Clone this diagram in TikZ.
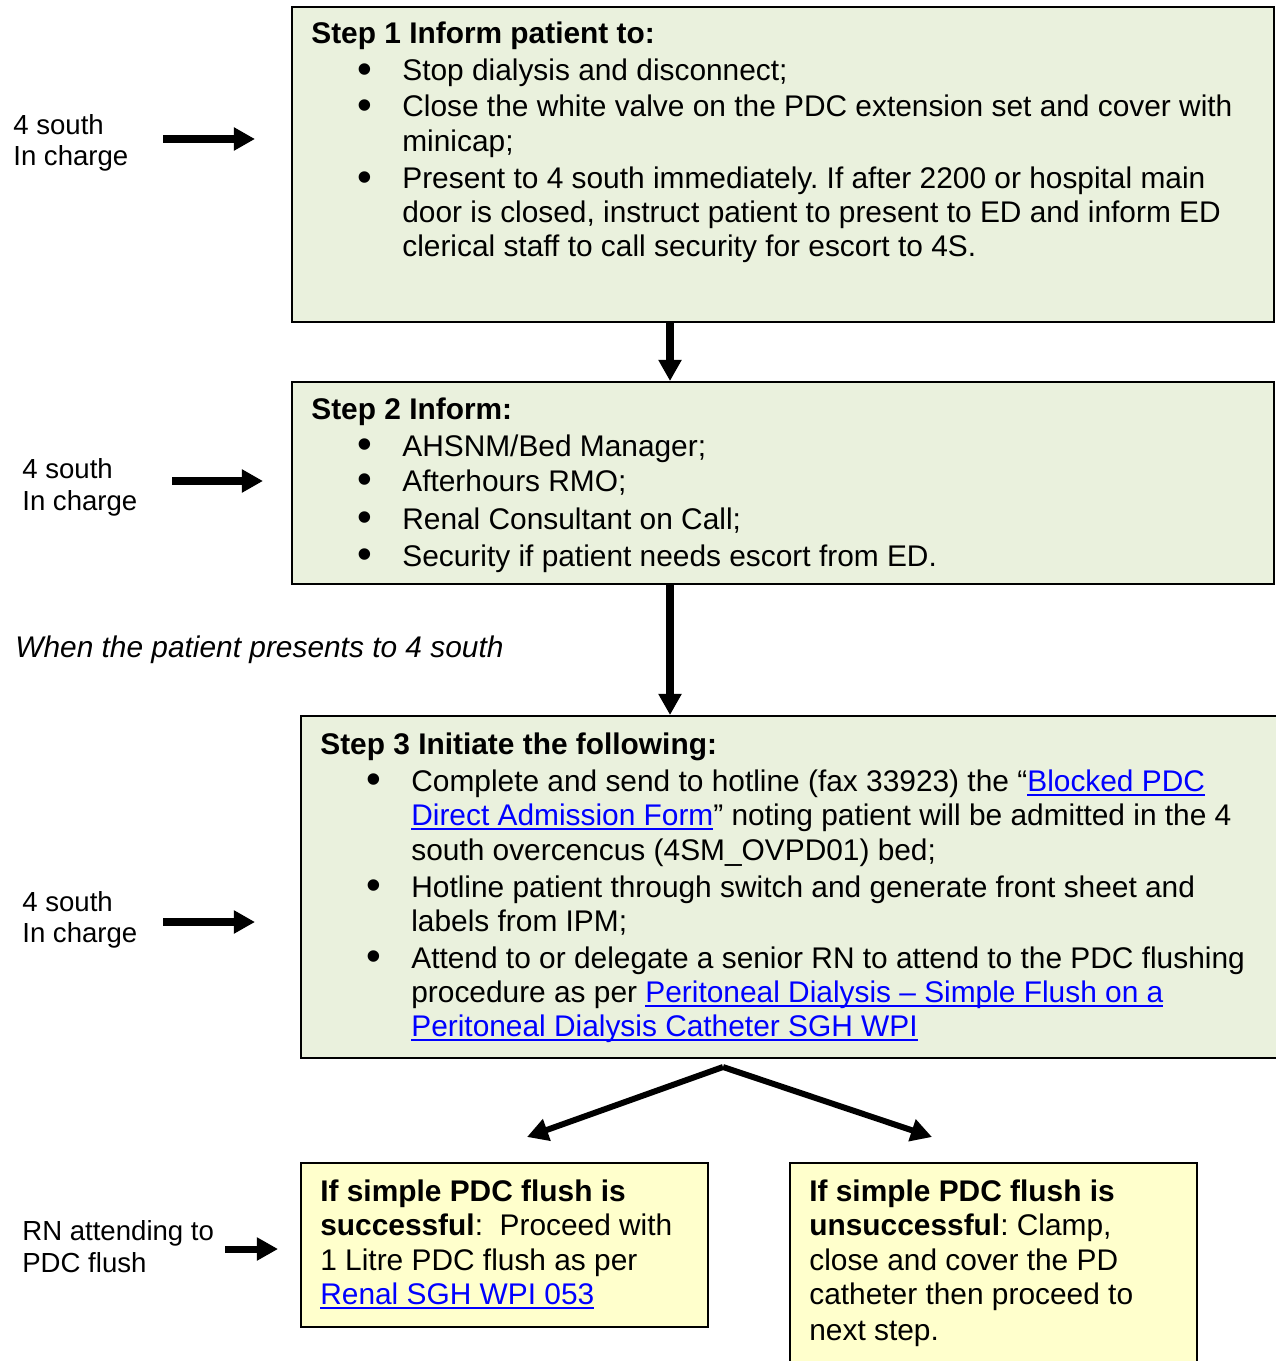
\documentclass[tikz,border=0pt]{standalone}
\usepackage{fontspec}
\setmainfont{Liberation Sans}
\usetikzlibrary{positioning,arrows.meta}
\definecolor{stepgreen}{HTML}{EAF1DD}
\definecolor{flushyellow}{HTML}{FFFFCC}
\definecolor{linkblue}{HTML}{0000FF}
\frenchspacing
\newcommand{\lnk}[1]{\textcolor{linkblue}{\setbox0\hbox{#1}\rlap{\rule[-2.6pt]{\wd0}{0.9pt}}\box0}}
\newcommand{\bul}{\smash{\raisebox{-1.6pt}{\fontsize{24}{20}\selectfont\textbullet}}}
\tikzset{
	stepbox/.style={draw, line width=1.1pt, fill=stepgreen, anchor=north west, inner sep=0pt},
	flushbox/.style={draw, line width=1.1pt, fill=flushyellow, anchor=north west, inner sep=0pt},
	txt/.style={anchor=base west, inner sep=0pt, font=\fontsize{17}{20}\selectfont},
	who/.style={anchor=base west, inner sep=0pt, font=\fontsize{15.7}{18}\selectfont},
	bigarrow/.style={line width=4pt, -{Triangle[length=12pt,width=12.5pt]}},
	splitarrow/.style={line width=3.4pt, -{Triangle[length=12pt,width=12.5pt]}}
}
\begin{document}
\begin{tikzpicture}[x=0.02cm, y=-0.02cm]
			\useasboundingbox (0,0) rectangle (1275,1361);
			% boxes
			\node[stepbox, minimum width=19.64cm, minimum height=6.30cm] (step1) at (291,6) {};
			\node[stepbox, minimum width=19.64cm, minimum height=4.04cm] (step2) at (291,381) {};
			\node[stepbox, minimum width=19.80cm, minimum height=6.84cm] (step3) at (300,715) {};
			\node[flushbox, minimum width=8.14cm, minimum height=3.28cm] (okbox) at (300,1162) {};
			\node[flushbox, minimum width=8.14cm, minimum height=4.40cm] (failbox) at (789,1162) {};
			% step 1
			\node[txt] (s1h) at (311,44) {\textbf{Step 1 Inform patient to:}};
			\node[txt] (s1b1) at (357,81) {\bul};
			\node[txt] (s1l1) at (402,81) {Stop dialysis and disconnect;};
			\node[txt] (s1b2) at (357,117) {\bul};
			\node[txt] (s1l2) at (402,117) {Close the white valve on the PDC extension set and cover with};
			\node[txt] (s1l3) at (402,152) {minicap;};
			\node[txt] (s1b3) at (357,189) {\bul};
			\node[txt] (s1l4) at (402,189) {Present to 4 south immediately. If after 2200 or hospital main};
			\node[txt] (s1l5) at (402,223) {door is closed, instruct patient to present to ED and inform ED};
			\node[txt] (s1l6) at (402,257) {clerical staff to call security for escort to 4S.};
			% step 2
			\node[txt] (s2h) at (311,419) {\textbf{Step 2 Inform:}};
			\node[txt] (s2b1) at (357,456) {\bul};
			\node[txt] (s2l1) at (402,456) {AHSNM/Bed Manager;};
			\node[txt] (s2b2) at (357,491) {\bul};
			\node[txt] (s2l2) at (402,491) {Afterhours RMO;};
			\node[txt] (s2b3) at (357,529) {\bul};
			\node[txt] (s2l3) at (402,529) {Renal Consultant on Call;};
			\node[txt] (s2b4) at (357,566) {\bul};
			\node[txt] (s2l4) at (402,566) {Security if patient needs escort from ED.};
			% step 3
			\node[txt] (s3h) at (320,754) {\textbf{Step 3 Initiate the following:}};
			\node[txt] (s3b1) at (366,791) {\bul};
			\node[txt] (s3l1) at (411,791) {Complete and send to hotline (fax 33923) the “\lnk{Blocked PDC}};
			\node[txt] (s3l2) at (411,825) {\lnk{Direct Admission Form}” noting patient will be admitted in the 4};
			\node[txt] (s3l3) at (411,860) {south overcencus (4SM\_OVPD01) bed;};
			\node[txt] (s3b2) at (366,897) {\bul};
			\node[txt] (s3l4) at (411,897) {Hotline patient through switch and generate front sheet and};
			\node[txt] (s3l5) at (411,931) {labels from IPM;};
			\node[txt] (s3b3) at (366,968) {\bul};
			\node[txt] (s3l6) at (411,968) {Attend to or delegate a senior RN to attend to the PDC flushing};
			\node[txt] (s3l7) at (411,1002) {procedure as per \lnk{Peritoneal Dialysis \textendash{} Simple Flush on a}};
			\node[txt] (s3l8) at (411,1036) {\lnk{Peritoneal Dialysis Catheter SGH WPI}};
			% flush outcomes
			\node[txt] (okl1) at (320,1201) {\textbf{If simple PDC flush is}};
			\node[txt] (okl2) at (320,1235) {\textbf{successful}:\ \ Proceed with};
			\node[txt] (okl3) at (320,1270) {1 Litre PDC flush as per};
			\node[txt] (okl4) at (320,1304) {\lnk{Renal SGH WPI 053}};
			\node[txt] (faill1) at (809,1201) {\textbf{If simple PDC flush is}};
			\node[txt] (faill2) at (809,1235) {\textbf{unsuccessful}: Clamp,};
			\node[txt] (faill3) at (809,1270) {close and cover the PD};
			\node[txt] (faill4) at (809,1304) {catheter then proceed to};
			\node[txt] (faill5) at (809,1340) {next step.};
			% who does it
			\node[who] (who1a) at (13,135) {4 south};
			\node[who] (who1b) at (13,166) {In charge};
			\node[who] (who2a) at (22,478) {4 south};
			\node[who] (who2b) at (22,510) {In charge};
			\node[who] (who3a) at (22,911) {4 south};
			\node[who] (who3b) at (22,942) {In charge};
			\node[who] (who4a) at (22,1240) {RN attending to};
			\node[who] (who4b) at (22,1272) {PDC flush};
			\node[txt] (when) at (15,657) {\itshape When the patient presents to 4 south};
			% arrows
			\coordinate (mid) at (670,0);
			\draw[bigarrow] (step1.south -| mid) -- (step2.north -| mid);
			\draw[bigarrow] (step2.south -| mid) -- (step3.north -| mid);
			\coordinate (w1s) at (163,139);
			\coordinate (w1e) at (255,139);
			\coordinate (w2s) at (172,481);
			\coordinate (w2e) at (263,481);
			\coordinate (w3s) at (163,922);
			\coordinate (w3e) at (255,922);
			\coordinate (w4s) at (225,1249);
			\coordinate (w4e) at (278,1249);
			\draw[bigarrow] (w1s) -- (w1e);
			\draw[bigarrow] (w2s) -- (w2e);
			\draw[bigarrow] (w3s) -- (w3e);
			\draw[bigarrow] (w4s) -- (w4e);
			\coordinate (split) at (723,1067);
			\coordinate (okin) at (527,1137);
			\coordinate (failin) at (932,1137);
			\draw[splitarrow] (split) -- (okin);
			\draw[splitarrow] (split) -- (failin);
\end{tikzpicture}
\end{document}
